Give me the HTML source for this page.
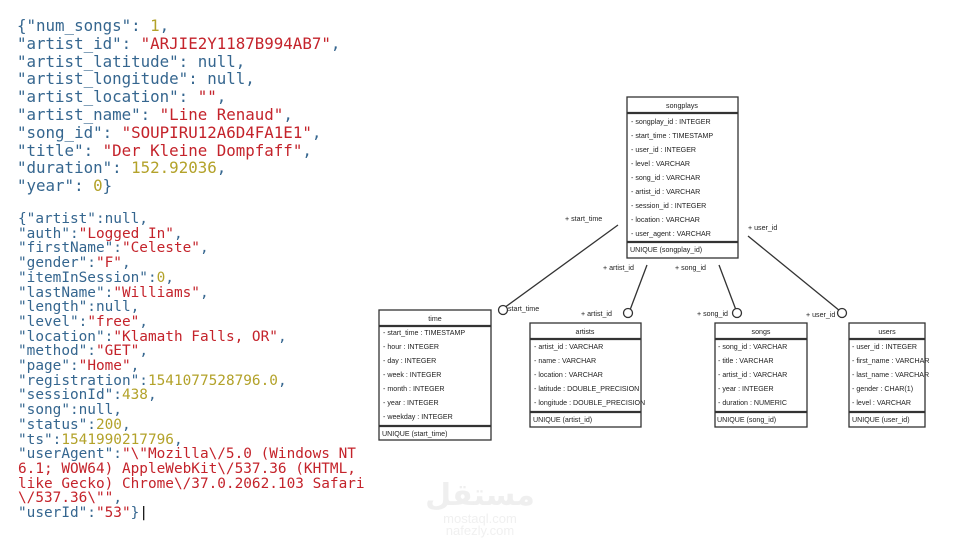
<!DOCTYPE html>
<html><head><meta charset="utf-8"><style>
body{margin:0;width:960px;height:540px;background:#fff;overflow:hidden;position:relative;font-family:"DejaVu Sans Mono","Liberation Mono",monospace}
.k{color:#35668f}.s{color:#c4232b}.n{color:#b3a22a}
pre{margin:0;position:absolute;white-space:pre}
#a{left:17px;top:17px;font-size:15.8px;line-height:17.8px}
#b{left:18px;top:212px;font-size:14.4px;line-height:14.7px}
svg{position:absolute;left:0;top:0}
svg text{font-family:"Liberation Sans","DejaVu Sans",sans-serif;font-size:7.1px;fill:#222}
</style></head><body>
<pre id="a"><span class="k">{"num_songs": </span><span class="n">1</span><span class="k">,
"artist_id": </span><span class="s">"ARJIE2Y1187B994AB7"</span><span class="k">,
"artist_latitude": null,
"artist_longitude": null,
"artist_location": </span><span class="s">""</span><span class="k">,
"artist_name": </span><span class="s">"Line Renaud"</span><span class="k">,
"song_id": </span><span class="s">"SOUPIRU12A6D4FA1E1"</span><span class="k">,
"title": </span><span class="s">"Der Kleine Dompfaff"</span><span class="k">,
"duration": </span><span class="n">152.92036</span><span class="k">,
"year": </span><span class="n">0</span><span class="k">}</span></pre>
<pre id="b"><span class="k">{"artist":null,
"auth":</span><span class="s">"Logged In"</span><span class="k">,
"firstName":</span><span class="s">"Celeste"</span><span class="k">,
"gender":</span><span class="s">"F"</span><span class="k">,
"itemInSession":</span><span class="n">0</span><span class="k">,
"lastName":</span><span class="s">"Williams"</span><span class="k">,
"length":null,
"level":</span><span class="s">"free"</span><span class="k">,
"location":</span><span class="s">"Klamath Falls, OR"</span><span class="k">,
"method":</span><span class="s">"GET"</span><span class="k">,
"page":</span><span class="s">"Home"</span><span class="k">,
"registration":</span><span class="n">1541077528796.0</span><span class="k">,
"sessionId":</span><span class="n">438</span><span class="k">,
"song":null,
"status":</span><span class="n">200</span><span class="k">,
"ts":</span><span class="n">1541990217796</span><span class="k">,
"userAgent":</span><span class="s">"\"Mozilla\/5.0 (Windows NT
6.1; WOW64) AppleWebKit\/537.36 (KHTML,
like Gecko) Chrome\/37.0.2062.103 Safari
\/537.36\""</span><span class="k">,
"userId":</span><span class="s">"53"</span><span class="k">}</span>|</pre>
<svg width="960" height="540" viewBox="0 0 960 540">
<g stroke="#333" fill="none" stroke-width="1.3">
<line x1="618" y1="225" x2="504" y2="308"/>
<line x1="647" y1="265" x2="630" y2="310"/>
<line x1="719" y1="265" x2="736" y2="310"/>
<line x1="748" y1="236" x2="840" y2="311"/>
<circle cx="503" cy="310" r="4.5" fill="#fff"/>
<circle cx="628" cy="313" r="4.5" fill="#fff"/>
<circle cx="737" cy="313" r="4.5" fill="#fff"/>
<circle cx="842" cy="313" r="4.5" fill="#fff"/>
<rect x="627" y="97" width="111" height="161"/>
<rect x="379" y="310" width="112" height="130"/>
<rect x="530" y="323" width="111" height="104"/>
<rect x="715" y="323" width="92" height="104"/>
<rect x="849" y="323" width="76" height="104"/>
</g>
<g stroke="#333" stroke-width="2.2">
<line x1="627" y1="113" x2="738" y2="113"/><line x1="627" y1="242" x2="738" y2="242"/>
<line x1="379" y1="326" x2="491" y2="326"/><line x1="379" y1="426" x2="491" y2="426"/>
<line x1="530" y1="339" x2="641" y2="339"/><line x1="530" y1="412" x2="641" y2="412"/>
<line x1="715" y1="339" x2="807" y2="339"/><line x1="715" y1="412" x2="807" y2="412"/>
<line x1="849" y1="339" x2="925" y2="339"/><line x1="849" y1="412" x2="925" y2="412"/>
</g>
<text x="682" y="108" text-anchor="middle">songplays</text>
<text x="631" y="124">- songplay_id : INTEGER</text>
<text x="631" y="138">- start_time : TIMESTAMP</text>
<text x="631" y="152">- user_id : INTEGER</text>
<text x="631" y="166">- level : VARCHAR</text>
<text x="631" y="180">- song_id : VARCHAR</text>
<text x="631" y="194">- artist_id : VARCHAR</text>
<text x="631" y="208">- session_id : INTEGER</text>
<text x="631" y="222">- location : VARCHAR</text>
<text x="631" y="236">- user_agent : VARCHAR</text>
<text x="630" y="252">UNIQUE (songplay_id)</text>
<text x="435" y="321" text-anchor="middle">time</text>
<text x="383" y="335">- start_time : TIMESTAMP</text>
<text x="383" y="349">- hour : INTEGER</text>
<text x="383" y="363">- day : INTEGER</text>
<text x="383" y="377">- week : INTEGER</text>
<text x="383" y="391">- month : INTEGER</text>
<text x="383" y="405">- year : INTEGER</text>
<text x="383" y="419">- weekday : INTEGER</text>
<text x="382" y="436">UNIQUE (start_time)</text>
<text x="585" y="334" text-anchor="middle">artists</text>
<text x="534" y="349">- artist_id : VARCHAR</text>
<text x="534" y="363">- name : VARCHAR</text>
<text x="534" y="377">- location : VARCHAR</text>
<text x="534" y="391">- latitude : DOUBLE_PRECISION</text>
<text x="534" y="405">- longitude : DOUBLE_PRECISION</text>
<text x="533" y="422">UNIQUE (artist_id)</text>
<text x="761" y="334" text-anchor="middle">songs</text>
<text x="718" y="349">- song_id : VARCHAR</text>
<text x="718" y="363">- title : VARCHAR</text>
<text x="718" y="377">- artist_id : VARCHAR</text>
<text x="718" y="391">- year : INTEGER</text>
<text x="718" y="405">- duration : NUMERIC</text>
<text x="717" y="422">UNIQUE (song_id)</text>
<text x="887" y="334" text-anchor="middle">users</text>
<text x="852" y="349">- user_id : INTEGER</text>
<text x="852" y="363">- first_name : VARCHAR</text>
<text x="852" y="377">- last_name : VARCHAR</text>
<text x="852" y="391">- gender : CHAR(1)</text>
<text x="852" y="405">- level : VARCHAR</text>
<text x="852" y="422">UNIQUE (user_id)</text>
<text x="565" y="221">+ start_time</text>
<text x="748" y="230">+ user_id</text>
<text x="603" y="270">+ artist_id</text>
<text x="675" y="270">+ song_id</text>
<text x="508" y="311">start_time</text>
<text x="581" y="316">+ artist_id</text>
<text x="697" y="316">+ song_id</text>
<text x="806" y="317">+ user_id</text>
<text x="480" y="505" text-anchor="middle" style="font-size:30px;font-weight:bold;fill:#efefef">مستقل</text>
<text x="480" y="523" text-anchor="middle" style="font-size:13px;fill:#f0f0f0">mostaql.com</text>
<text x="480" y="535" text-anchor="middle" style="font-size:13px;fill:#f0f0f0">nafezly.com</text>
</svg>
</body></html>
